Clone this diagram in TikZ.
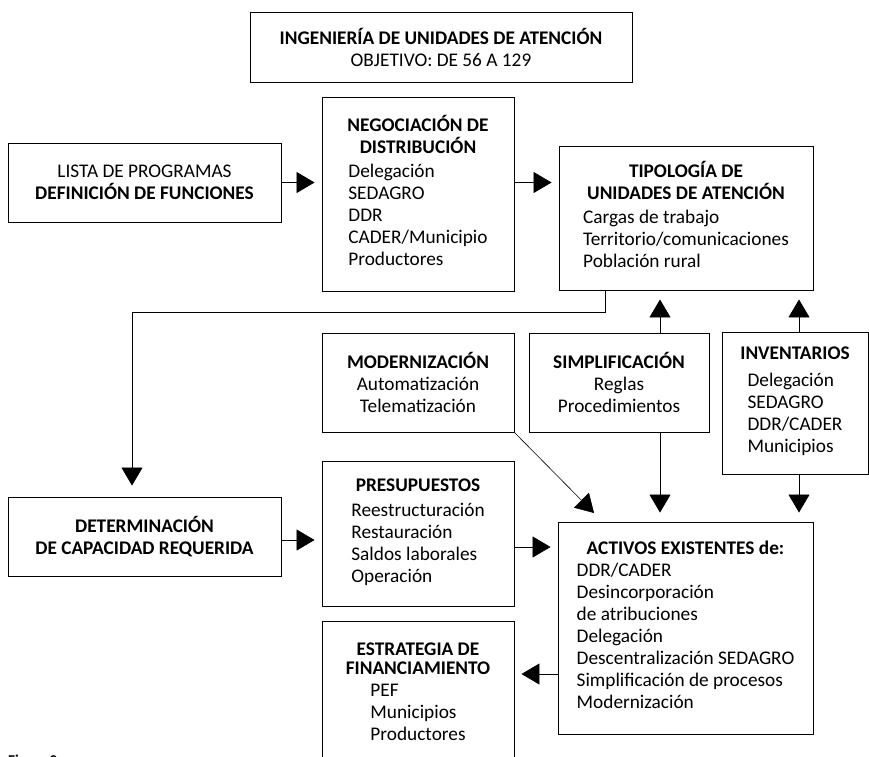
\documentclass[tikz,border=0pt]{standalone}
\usepackage{fontspec}
\setmainfont{Carlito}
\usetikzlibrary{arrows.meta}
\newcommand{\itemlist}[1]{\begin{tabular}[t]{@{}l@{}}#1\end{tabular}}

\begin{document}
\begin{tikzpicture}[x=1pt,y=-1pt,>={Triangle[length=18pt,width=21pt]},box/.style={draw,line width=.9pt,align=center,inner sep=0pt,font=\fontsize{19.3}{22}\selectfont},conn/.style={->,line width=.8pt,shorten >=7pt}]
\useasboundingbox (0,0) rectangle (869,756);
\node[box,minimum width=382pt,minimum height=70pt] (ing) at (441,47) {\textbf{INGENIERÍA DE UNIDADES DE ATENCIÓN}\\OBJETIVO: DE 56 A 129};
\node[box,minimum width=273pt,minimum height=79pt] (lista) at (144.5,182.5) {LISTA DE PROGRAMAS\\\textbf{DEFINICIÓN DE FUNCIONES}};
\node[box,minimum width=192pt,minimum height=194pt] (neg) at (418,194) {\textbf{NEGOCIACIÓN DE}\\\textbf{DISTRIBUCIÓN}\\[2pt]\itemlist{Delegación\\SEDAGRO\\DDR\\CADER/Municipio\\Productores}};
\node[box,minimum width=254pt,minimum height=144pt] (tipo) at (686,218) {\textbf{TIPOLOGÍA DE}\\\textbf{UNIDADES DE ATENCIÓN}\\[2pt]\itemlist{Cargas de trabajo\\Territorio/comunicaciones\\Población rural}};
\node[box,minimum width=192pt,minimum height=99pt] (mod) at (418,382.5) {\textbf{MODERNIZACIÓN}\\Automatización\\Telematización};
\node[box,minimum width=180pt,minimum height=99pt] (simp) at (619,382.5) {\textbf{SIMPLIFICACIÓN}\\Reglas\\Procedimientos};
\node[box,minimum width=146pt,minimum height=142pt] (inv) at (795,403) {\textbf{INVENTARIOS}\\[5pt]\itemlist{Delegación\\SEDAGRO\\DDR/CADER\\Municipios}};
\node[box,minimum width=273pt,minimum height=79pt] (det) at (144.5,536.5) {\textbf{DETERMINACIÓN}\\\textbf{DE CAPACIDAD REQUERIDA}};
\node[box,minimum width=192pt,minimum height=145pt] (pres) at (418,533.5) {\textbf{PRESUPUESTOS}\\[3pt]\itemlist{Reestructuración\\Restauración\\Saldos laborales\\Operación}};
\node[box,minimum width=255pt,minimum height=212pt] (act) at (685.5,628) {\textbf{ACTIVOS EXISTENTES de:}\\\itemlist{DDR/CADER\\Desincorporación\\de atribuciones\\Delegación\\Descentralización SEDAGRO\\Simplificación de procesos\\Modernización}};
\node[box,minimum width=192pt,minimum height=148pt] (est) at (418,695) {\textbf{ESTRATEGIA DE}\\[-3pt]\textbf{FINANCIAMIENTO}\\\itemlist{PEF\\Municipios\\Productores}};
\node[anchor=base west,inner sep=0pt,font=\fontsize{15}{18}\selectfont\bfseries] (fig) at (8,765) {Figura 2};
\draw[conn] (lista.east) -- (lista.east -| neg.west);
\draw[conn] (neg.east |- lista.east) -- (tipo.west |- lista.east);
\draw[conn,shorten >=11pt] ([xshift=-81pt]tipo.south) -- ++(0,22) -| ([xshift=-12.5pt]det.north);
\draw[conn,shorten >=9pt] ([xshift=41pt]simp.north) -- ([xshift=41pt]simp.north |- tipo.south);
\draw[conn,shorten >=9pt] ([xshift=4pt]inv.north) -- ([xshift=4pt]inv.north |- tipo.south);
\draw[conn,shorten >=9pt] ([xshift=41pt]simp.south) -- ([xshift=41pt]simp.south |- act.north);
\draw[conn,shorten >=9pt] ([xshift=4pt]inv.south) -- ([xshift=4pt]inv.south |- act.north);
\draw[conn,line width=.6pt,shorten >=12pt] (mod.south east) -- ([xshift=-83pt]act.north);
\draw[conn] ([yshift=-3.5pt]det.east) -- ([yshift=-3.5pt]det.east -| pres.west);
\draw[conn] ([yshift=-13.5pt]pres.east) -- ([yshift=-13.5pt]pres.east -| act.west);
\draw[conn] ([yshift=21pt]est.east -| act.west) -- ([yshift=21pt]est.east);
\end{tikzpicture}
\end{document}
